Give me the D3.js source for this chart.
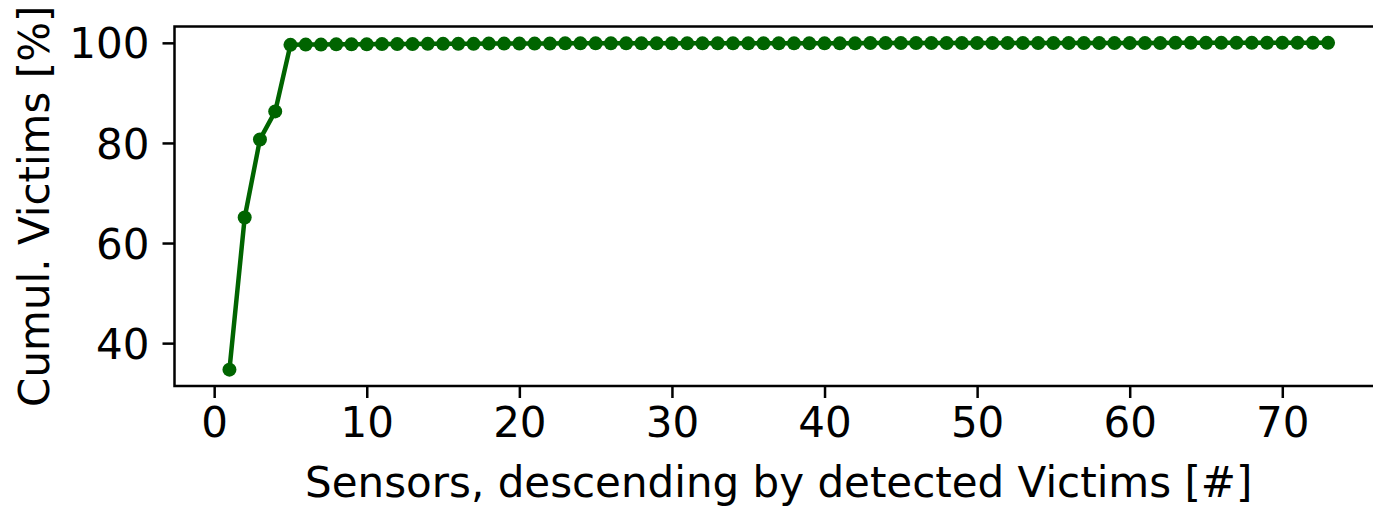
<!DOCTYPE html>
<html>
<head>
<meta charset="utf-8">
<script src="https://cdn.jsdelivr.net/npm/d3@7"></script>
<style>
  html, body { margin: 0; background: #fff; overflow: hidden; }
  svg { display: block; font-family: "DejaVu Sans", sans-serif; }
</style>
</head>
<body>
<div id="chart"></div>
<script>
// Cumulative share of victims (%) per sensor, sensors sorted by detections
const sensorIdx = d3.range(1, 74);
const cumVictims = [
  34.7, 65.1, 80.7, 86.3, 99.6, 99.65, 99.65, 99.7, 99.7, 99.7,
  99.75, 99.75, 99.75, 99.8, 99.8, 99.8, 99.8, 99.85, 99.85, 99.85,
  99.85, 99.85, 99.9, 99.9, 99.9, 99.9, 99.9, 99.9, 99.9, 99.9,
  99.9, 99.9, 99.9, 99.9, 99.9, 99.9, 99.9, 99.9, 99.9, 99.9,
  99.9, 99.9, 99.95, 99.95, 99.95, 99.95, 99.95, 99.95, 99.95, 99.95,
  99.95, 99.95, 99.95, 99.95, 99.95, 99.95, 99.95, 99.95, 99.95, 99.95,
  99.95, 99.95, 100, 100, 100, 100, 100, 100, 100, 100,
  100, 100, 100
];
const xTicks = [0, 10, 20, 30, 40, 50, 60, 70];
const yTicks = [40, 60, 80, 100];

const width = 1373;
const height = 507;
const margin = { left: 174.5, top: 26.5, right: -10, bottom: 121 };

const svg = d3.select("#chart")
  .append("svg")
  .attr("width", width)
  .attr("height", height);

// matplotlib-style 5% padding around the data
const x = d3.scaleLinear()
  .domain([1 - 72 * 0.05, 73 + 72 * 0.05])
  .range([margin.left, width - margin.right]);

const yMin = d3.min(cumVictims), yMax = d3.max(cumVictims);
const yPad = (yMax - yMin) * 0.05;
const y = d3.scaleLinear()
  .domain([yMin - yPad, yMax + yPad])
  .range([height - margin.bottom, margin.top]);

const color = "#006400";
const fontSize = 42;

// frame (right spine falls outside the picture)
const x0 = x.range()[0], y0 = y.range()[0], y1 = y.range()[1];
svg.append("path")
  .attr("d", `M${width + 5},${y1}H${x0}V${y0}H${width + 5}`)
  .attr("fill", "none")
  .attr("stroke", "#000")
  .attr("stroke-width", 2.5);

// axes
const xAxis = svg.append("g")
  .attr("transform", `translate(0,${y0})`)
  .call(d3.axisBottom(x).tickValues(xTicks).tickSize(12).tickPadding(9));

const yAxis = svg.append("g")
  .attr("transform", `translate(${x0},0)`)
  .call(d3.axisLeft(y).tickValues(yTicks).tickSize(12).tickPadding(13));

[xAxis, yAxis].forEach(ax => {
  ax.select(".domain").remove();
  ax.selectAll(".tick line").attr("stroke", "#000").attr("stroke-width", 2.5);
  ax.selectAll(".tick text")
    .attr("fill", "#000")
    .style("font-size", fontSize + "px")
    .style("font-family", "DejaVu Sans, sans-serif");
});
yAxis.selectAll(".tick text").attr("dy", "0.36em");

// line + markers
const line = d3.line()
  .x((d, i) => x(sensorIdx[i]))
  .y(d => y(d));

svg.append("path")
  .datum(cumVictims)
  .attr("d", line)
  .attr("fill", "none")
  .attr("stroke", color)
  .attr("stroke-width", 4.5)
  .attr("stroke-linejoin", "round");

svg.selectAll(".dot")
  .data(cumVictims)
  .enter()
  .append("circle")
  .attr("class", "dot")
  .attr("cx", (d, i) => x(sensorIdx[i]))
  .attr("cy", d => y(d))
  .attr("r", 7)
  .attr("fill", color);

// axis labels
svg.append("text")
  .attr("x", (x0 + x.range()[1]) / 2)
  .attr("y", 497)
  .attr("text-anchor", "middle")
  .style("font-size", fontSize + "px")
  .text("Sensors, descending by detected Victims [#]");

svg.append("text")
  .attr("transform", `translate(49,${(y0 + y1) / 2}) rotate(-90)`)
  .attr("text-anchor", "middle")
  .style("font-size", fontSize + "px")
  .text("Cumul. Victims [%]");
</script>
</body>
</html>
